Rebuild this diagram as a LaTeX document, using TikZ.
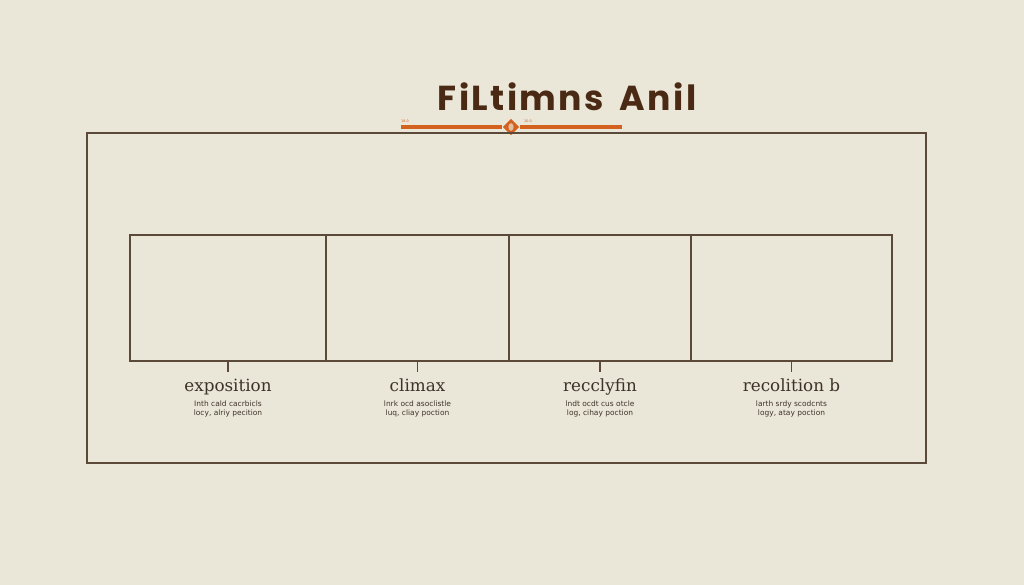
\documentclass[tikz,border=0pt]{standalone}
\usepackage{fontspec}
\usetikzlibrary{positioning,shapes.geometric}
\newfontfamily\titlefont[LetterSpace=7,WordSpace=1.6]{Poppins}
\newfontfamily\labelfont{DejaVu Serif}
\newfontfamily\notefont{DejaVu Sans}
\definecolor{paper}{HTML}{EAE6D8}
\definecolor{linebrown}{HTML}{5B4A3A}
\definecolor{titlebrown}{HTML}{4A2A14}
\definecolor{rust}{HTML}{D4621F}
\definecolor{inkgray}{HTML}{3E3228}

\begin{document}
\begin{tikzpicture}[x=0.75pt, y=-0.75pt,
  frame/.style={draw=linebrown, line width=1.1pt},
  panel/.style={frame, minimum height=94.5pt, inner sep=0pt},
  tick/.style={draw=linebrown, line width=1.2pt},
  stage/.style={font=\labelfont\fontsize{12.6}{14}\selectfont, text=inkgray, inner sep=0pt},
  note/.style={font=\notefont\fontsize{5.6}{7}\selectfont, text=inkgray, align=center, inner sep=0pt},
  orn/.style={draw=rust, line width=2.4pt}
]
\useasboundingbox[fill=paper] (0,0) rectangle (1024,585);

% heading
\node[font=\titlefont\bfseries\fontsize{26}{30}\selectfont, text=titlebrown, anchor=base] (head) at (567,110) {FiLtimns Anil};

\node[diamond, fill=rust, minimum size=12.5pt, inner sep=0pt] (gem) at (511,127) {};
\fill[paper!70!rust] (gem.center) ellipse (2.6 and 3.8);
\coordinate (ornL) at (401,127);
\coordinate (ornR) at (622,127);
\draw[orn] (ornL) -- (gem.west);
\draw[orn] (gem.east) -- (ornR);
\node[font=\notefont\fontsize{2.5}{3}\selectfont, text=rust, anchor=south west, inner sep=0pt] (lblL) at (401,123) {18.0};
\node[font=\notefont\fontsize{2.5}{3}\selectfont, text=rust, anchor=south west, inner sep=0pt] (lblR) at (524,123) {20.0};

% outer frame
\draw[frame] (87,133) rectangle (926,463);

% panels
\node[panel, minimum width=147pt] (p1) at (228,298) {};
\node[panel, minimum width=137.25pt] (p2) at (417.5,298) {};
\node[panel, minimum width=136.5pt] (p3) at (600,298) {};
\node[panel, minimum width=150.75pt] (p4) at (791.5,298) {};

% ticks and captions
\foreach \p/\t/\a/\b in {p1/exposition/Inth cald cacrbicls/{locy, alriy pecition},
                         p2/climax/lnrk ocd asoclistle/{luq, cliay poction},
                         p3/recclyfin/lndt ocdt cus otcle/{log, cihay poction},
                         p4/recolition b/larth srdy scodcnts/{logy, atay poction}}{
  \coordinate (\p-t) at ([yshift=-7.5pt]\p.south);
  \draw[tick] (\p.south) -- (\p-t);
  \node[stage, anchor=base] (\p-name) at ([yshift=-14.5pt]\p-t) {\t};
  \node[note, anchor=north] (\p-note) at ([yshift=-7pt]\p-name.base) {\a\\\b};
}
\end{tikzpicture}
\end{document}
